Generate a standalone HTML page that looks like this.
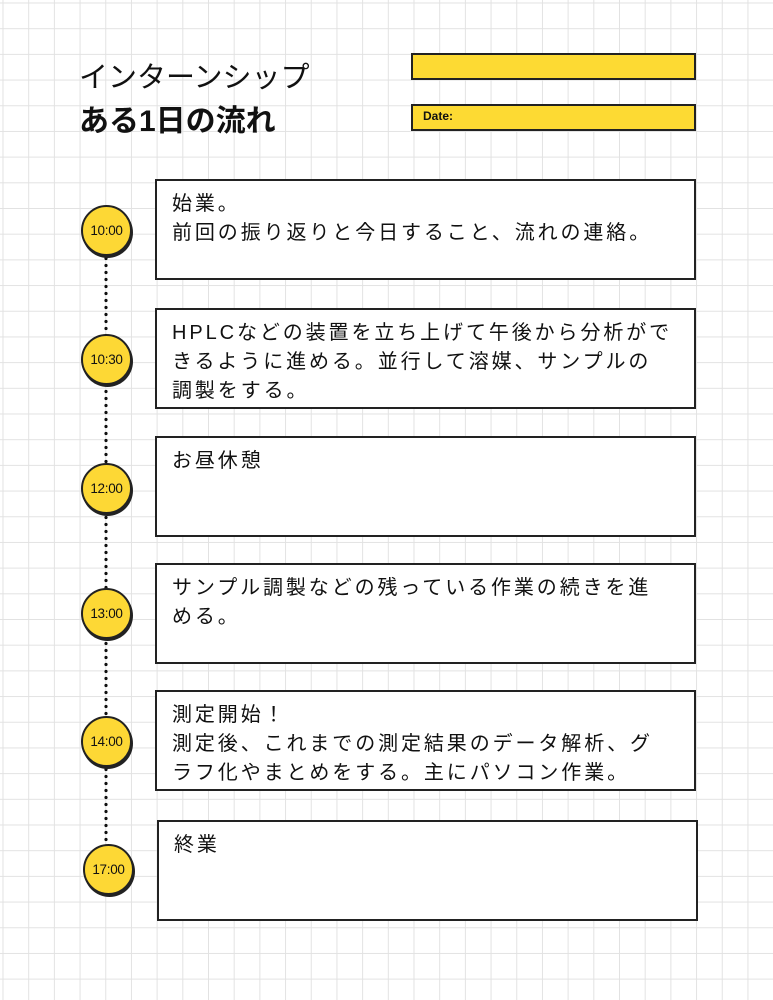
<!DOCTYPE html>
<html><head><meta charset="utf-8"><style>
body{margin:0;width:773px;height:1000px;overflow:hidden;position:relative;background:#fff;
background-image:linear-gradient(to right,#e2e2e2 1px,transparent 1px),linear-gradient(to bottom,#e2e2e2 1px,transparent 1px);
background-size:25.7px 25.7px;background-position:2.5px 2.5px;
font-family:"Liberation Sans","Noto Sans CJK JP",sans-serif;color:#111}
.t{position:absolute;left:79px;font-size:29px;white-space:nowrap}
.bar{position:absolute;left:411px;width:281px;height:23px;background:#fdda33;border:2px solid #222}
.box{position:absolute;width:537px;height:97px;border:2px solid #222;background:#fff;box-sizing:content-box}
.box div{position:absolute;left:15px;top:9px;font-size:20px;line-height:29px;letter-spacing:2.9px;white-space:nowrap}
.c{position:absolute;width:47px;height:47px;border-radius:50%;background:#fdd835;border:2px solid #222;
box-shadow:1px 2px 0 #222;font-size:13.5px;line-height:47px;text-align:center;letter-spacing:-0.3px}
.dot{position:absolute;left:104px;top:255px;width:4px;height:592px;
background-image:radial-gradient(circle,#111 1.6px,transparent 1.8px);background-size:4px 7px}
</style></head><body>
<div class="t" style="top:54px">インターンシップ</div>
<div class="t" style="top:96px;font-weight:bold;font-size:30px;letter-spacing:0px">ある1日の流れ</div>
<div class="bar" style="top:53px"></div>
<div class="bar" style="top:104px"><span style="position:absolute;left:10px;top:3px;font-size:12px;font-weight:bold">Date:</span></div>
<div class="dot"></div>
<div class="box" style="left:155px;top:179px"><div>始業。<br>前回の振り返りと今日すること、流れの連絡。</div></div>
<div class="box" style="left:155px;top:308px"><div>HPLCなどの装置を立ち上げて午後から分析がで<br>きるように進める。並行して溶媒、サンプルの<br>調製をする。</div></div>
<div class="box" style="left:155px;top:436px"><div>お昼休憩</div></div>
<div class="box" style="left:155px;top:563px"><div>サンプル調製などの残っている作業の続きを進<br>める。</div></div>
<div class="box" style="left:155px;top:690px"><div>測定開始！<br>測定後、これまでの測定結果のデータ解析、グ<br>ラフ化やまとめをする。主にパソコン作業。</div></div>
<div class="box" style="left:157px;top:820px"><div>終業</div></div>
<div class="c" style="left:81px;top:205px">10:00</div>
<div class="c" style="left:81px;top:334px">10:30</div>
<div class="c" style="left:81px;top:463px">12:00</div>
<div class="c" style="left:81px;top:588px">13:00</div>
<div class="c" style="left:81px;top:716px">14:00</div>
<div class="c" style="left:83px;top:844px">17:00</div>
</body></html>
